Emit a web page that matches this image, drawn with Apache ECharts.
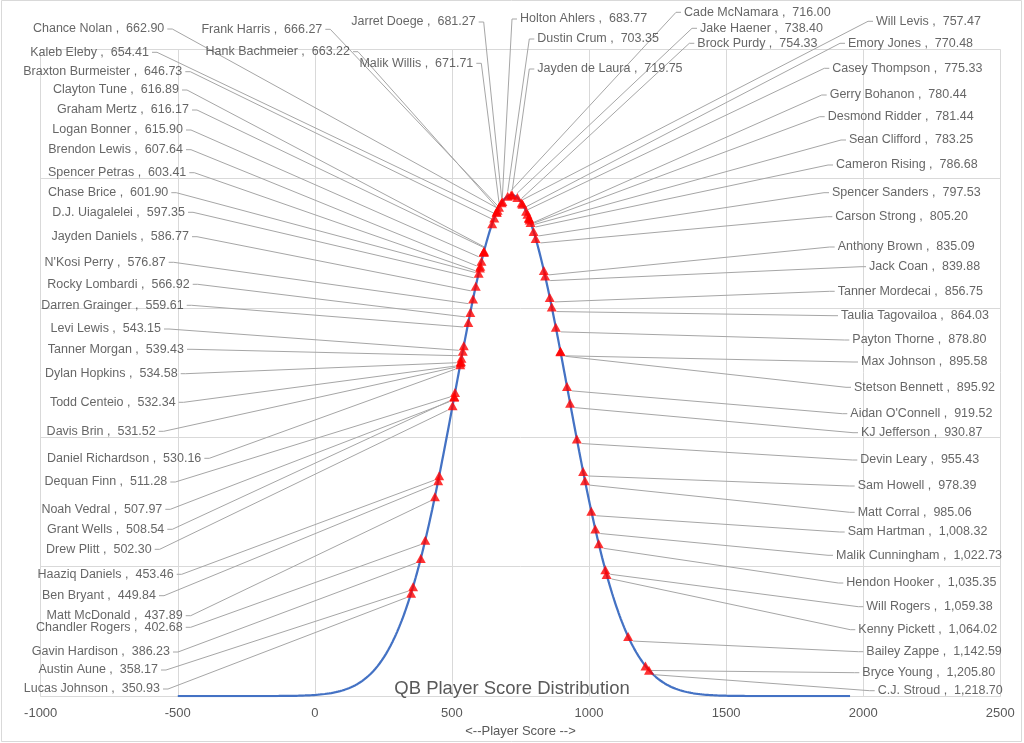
<!DOCTYPE html>
<html>
<head>
<meta charset="utf-8">
<script src="https://cdn.jsdelivr.net/npm/echarts@6/dist/echarts.min.js"></script>
<style>
html,body{margin:0;padding:0;background:#fff;}
#chart{width:1024px;height:743px;}
</style>
</head>
<body>
<div id="chart"></div>
<script>
// ---- Data ----
const playerNames = [
  "Chance Nolan","Kaleb Eleby","Braxton Burmeister","Clayton Tune","Graham Mertz","Logan Bonner",
  "Brendon Lewis","Spencer Petras","Chase Brice","D.J. Uiagalelei","Jayden Daniels","N'Kosi Perry",
  "Rocky Lombardi","Darren Grainger","Levi Lewis","Tanner Morgan","Dylan Hopkins","Todd Centeio",
  "Davis Brin","Daniel Richardson","Dequan Finn","Noah Vedral","Grant Wells","Drew Plitt",
  "Haaziq Daniels","Ben Bryant","Matt McDonald","Chandler Rogers","Gavin Hardison","Austin Aune",
  "Lucas Johnson",
  "Frank Harris","Hank Bachmeier","Malik Willis","Jarret Doege","Holton Ahlers","Dustin Crum",
  "Cade McNamara","Jayden de Laura","Jake Haener","Brock Purdy","Will Levis",
  "Emory Jones","Casey Thompson","Gerry Bohanon","Desmond Ridder","Sean Clifford","Cameron Rising",
  "Spencer Sanders","Carson Strong","Anthony Brown","Jack Coan","Tanner Mordecai","Taulia Tagovailoa",
  "Payton Thorne","Max Johnson","Stetson Bennett","Aidan O'Connell","KJ Jefferson","Devin Leary",
  "Sam Howell","Matt Corral","Sam Hartman","Malik Cunningham","Hendon Hooker","Will Rogers",
  "Kenny Pickett","Bailey Zappe","Bryce Young","C.J. Stroud"
];
const playerScores = [
  662.90,654.41,646.73,616.89,616.17,615.90,
  607.64,603.41,601.90,597.35,586.77,576.87,
  566.92,559.61,543.15,539.43,534.58,532.34,
  531.52,530.16,511.28,507.97,508.54,502.30,
  453.46,449.84,437.89,402.68,386.23,358.17,
  350.93,
  666.27,663.22,671.71,681.27,683.77,703.35,
  716.00,719.75,738.40,754.33,757.47,
  770.48,775.33,780.44,781.44,783.25,786.68,
  797.53,805.20,835.09,839.88,856.75,864.03,
  878.80,895.58,895.92,919.52,930.87,955.43,
  978.39,985.06,1008.32,1022.73,1035.35,1059.38,
  1064.02,1142.59,1205.80,1218.70
];
const xTicks = [-1000, -500, 0, 500, 1000, 1500, 2000, 2500];
const curveRange = [-500, 1952];   // extent of the drawn normal curve
const chartTitle = "QB Player Score Distribution";
const xAxisTitle = "<--Player Score -->";

// ---- Label placement (pixel anchors of the text labels, separate from the data) ----
// [anchor x, centre y, side]  side 'r' = anchor is the text's right edge, 'l' = left edge
const labelAnchors = [
  [164.3,29,'r'],[149,52.3,'r'],[182.3,71.7,'r'],[179,90,'r'],[189,110,'r'],[183,130,'r'],
  [183,149.7,'r'],[186.3,172.7,'r'],[168.3,192.7,'r'],[185,212.3,'r'],[189,236.7,'r'],[165.7,262.3,'r'],
  [189.7,284.3,'r'],[183.7,305.3,'r'],[161,329,'r'],[184,349.3,'r'],[177.7,373.7,'r'],[175.7,402.3,'r'],
  [155.7,431.3,'r'],[201.3,458.3,'r'],[167.3,482,'r'],[162.3,509.3,'r'],[164.3,529.3,'r'],[151.7,549.3,'r'],
  [173.7,574.3,'r'],[156,595.7,'r'],[182.7,615.7,'r'],[182.7,627.3,'r'],[170,652,'r'],[158,670,'r'],
  [160,689,'r'],
  [322.3,29.3,'r'],[350,51.7,'r'],[473.3,63.3,'r'],[475.7,22,'r'],[520,19,'l'],[537.3,39,'l'],
  [684,12.3,'l'],[537.3,69,'l'],[700,28.3,'l'],[697.3,43.3,'l'],[876,21.3,'l'],
  [848,43.3,'l'],[832.3,68.3,'l'],[829.7,95,'l'],[827.7,116.7,'l'],[849,140,'l'],[836,165,'l'],
  [832,192.7,'l'],[835.3,216.7,'l'],[837.7,247,'l'],[869,266.7,'l'],[837.7,291.3,'l'],[841,315.7,'l'],
  [852.3,340,'l'],[861,362,'l'],[854,387.3,'l'],[850.3,413.7,'l'],[861,432.7,'l'],[860.3,460,'l'],
  [857.7,486,'l'],[857.7,512.3,'l'],[847.7,532,'l'],[836,555.3,'l'],[846.3,583,'l'],[866.3,606.7,'l'],
  [858.3,629.7,'l'],[866.3,651.7,'l'],[862.3,672.7,'l'],[877.7,690.7,'l']
];

// ---- Normal distribution of the scores (mean / sample standard deviation) ----
const n = playerScores.length;
const mean = playerScores.reduce((a, b) => a + b, 0) / n;
const sd = Math.sqrt(playerScores.reduce((a, b) => a + (b - mean) * (b - mean), 0) / (n - 1));
function normPdf(x) {
  return Math.exp(-0.5 * Math.pow((x - mean) / sd, 2)) / (sd * Math.sqrt(2 * Math.PI));
}
const curveData = [];
for (let x = curveRange[0]; x <= curveRange[1]; x += 4) curveData.push([x, normPdf(x)]);
const pointData = playerScores.map((s, i) => ({ name: playerNames[i], value: [s, normPdf(s)] }));

function fmt(v) {
  return v.toLocaleString('en-US', { minimumFractionDigits: 2, maximumFractionDigits: 2 });
}

const FONT = "'Liberation Sans', Arial, sans-serif";
const PAD = 3;

const chart = echarts.init(document.getElementById('chart'), null, { renderer: 'canvas' });
chart.setOption({
  animation: false,
  backgroundColor: '#ffffff',
  textStyle: { fontFamily: FONT },
  graphic: [{
    type: 'rect', z: -10, silent: true,
    shape: { x: 1.5, y: 0.5, width: 1020, height: 741 },
    style: { fill: 'none', stroke: '#d9d9d9', lineWidth: 1 }
  }],
  title: {
    text: chartTitle, left: 'center', top: 674,
    textStyle: { fontFamily: FONT, fontSize: 18.5, fontWeight: 'normal', color: '#595959' }
  },
  grid: { left: 40.7, right: 23.7, top: 49.3, bottom: 43.7, containLabel: false },
  xAxis: {
    type: 'value', min: xTicks[0], max: xTicks[xTicks.length - 1], interval: xTicks[1] - xTicks[0],
    name: xAxisTitle, nameLocation: 'middle', nameGap: 26,
    nameTextStyle: { fontFamily: FONT, fontSize: 13, color: '#595959' },
    axisLine: { show: true, lineStyle: { color: '#d9d9d9', width: 1 } },
    axisTick: { show: false },
    axisLabel: { color: '#595959', fontFamily: FONT, fontSize: 13, margin: 11, formatter: v => String(v) },
    splitLine: { show: true, lineStyle: { color: '#d9d9d9', width: 1 } }
  },
  yAxis: {
    type: 'value', min: 0, max: 0.0025, interval: 0.0005,
    axisLine: { show: false }, axisTick: { show: false }, axisLabel: { show: false },
    splitLine: { show: true, lineStyle: { color: '#d9d9d9', width: 1 } }
  },
  series: [
    {
      type: 'line', data: curveData, showSymbol: false, symbol: 'none', smooth: false,
      lineStyle: { color: '#4472C4', width: 2.25 }, z: 2, silent: true
    },
    {
      type: 'scatter', data: pointData, symbol: 'triangle', symbolSize: [10, 9],
      itemStyle: { color: '#FF0000' }, z: 5,
      label: {
        show: true,
        formatter: p => p.name + ' ,  ' + fmt(p.value[0]),
        fontFamily: FONT, fontSize: 12.5, color: '#404040',
        padding: [0, PAD], backgroundColor: 'rgba(255,255,255,0)'
      },
      labelLine: { show: true, length2: 5, lineStyle: { color: '#a6a6a6', width: 1 } },
      labelLayout: function (params) {
        const a = labelAnchors[params.dataIndex];
        return {
          x: a[2] === 'r' ? a[0] + PAD : a[0] - PAD,
          y: a[1],
          align: a[2] === 'r' ? 'right' : 'left',
          verticalAlign: 'middle',
          hideOverlap: false
        };
      }
    }
  ]
});
</script>
</body>
</html>
